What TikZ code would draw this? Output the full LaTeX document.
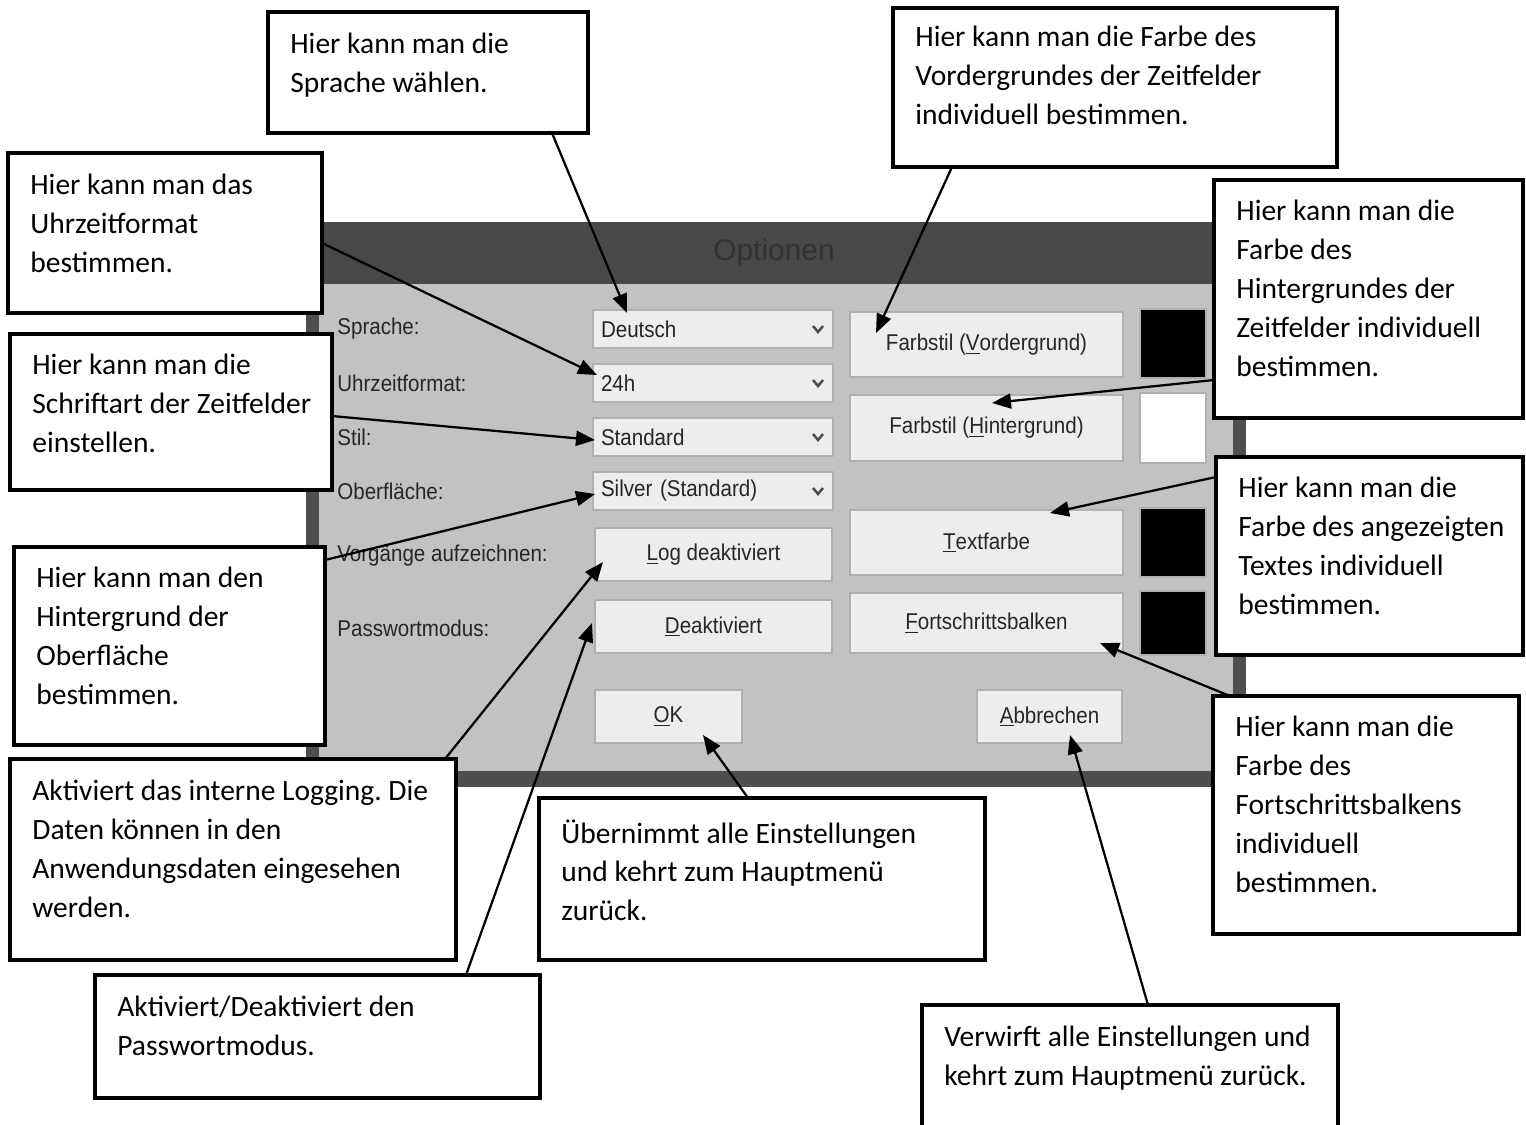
\documentclass[tikz,border=0pt]{standalone}
\usepackage{fontspec}
\usetikzlibrary{arrows.meta,positioning}
\newfontfamily\notefont{Carlito}
\newfontfamily\uifont[FakeStretch=0.9]{Liberation Sans}
\newfontfamily\titlefont{Liberation Sans}
\definecolor{winframe}{HTML}{4E4E4E}
\definecolor{wintitle}{HTML}{484848}
\definecolor{wintext}{HTML}{333333}
\definecolor{winbg}{HTML}{C2C2C2}
\definecolor{ctrlbg}{HTML}{EDEDED}
\definecolor{ctrlline}{HTML}{B0B0B0}
\definecolor{uitext}{HTML}{262626}
\frenchspacing
\tikzset{
    >={Triangle[length=3.8mm,width=3mm]},
    pxbox/.style 2 args={minimum width=#1*0.2mm,minimum height=#2*0.2mm},
    callout/.style={draw,line width=0.65mm,fill=white,inner sep=0pt,outer sep=0pt,anchor=north west},
    note/.style={font=\notefont\fontsize{16.8}{22.1}\selectfont,align=left,inner sep=0pt,anchor=north west,execute at begin node=\strut},
    pointer/.style={->,line width=0.45mm},
    ctrl/.style={draw=ctrlline,fill=ctrlbg,line width=0.3mm,inner sep=0pt,outer sep=0pt,font=\uifont\fontsize{13}{15}\selectfont,text=uitext},
    combo/.style={ctrl,anchor=west,minimum height=7.6mm,text width=44.8mm,inner xsep=1.6mm,align=left},
    button/.style={ctrl,anchor=north west},
    swatch/.style={draw=ctrlline,line width=0.3mm,inner sep=0pt,outer sep=0pt,anchor=north west},
    uilabel/.style={font=\uifont\fontsize{13}{15}\selectfont,text=uitext,anchor=west,inner sep=0pt},
    chev/.style={draw=gray!60!black,line width=0.5mm}
}

\begin{document}
\begin{tikzpicture}[x=0.2mm,y=-0.2mm]
        \clip (0,0) rectangle (1526,1124);

        % Dialog window
        \fill[winframe] (306,222) rectangle (1246,787);
        \fill[wintitle] (306,222) rectangle (1246,284);
        \fill[winbg] (319,284) rectangle (1233,771);
        \node[font=\titlefont\fontsize{17}{20}\selectfont,text=wintext] (title) at (774,253) {Optionen};

        % Labels
        \foreach \name/\y/\txt in {
            lblsprache/329/Sprache:, lbluhr/383/Uhrzeitformat:, lblstil/437/Stil:,
            lblflaeche/491/Oberfläche:, lbllog/556/Vorgänge aufzeichnen:, lblpw/628/Passwortmodus:
        } {
            \node[uilabel] (\name) at (337,\y) {\txt};
        }

        % Combo boxes
        \foreach \name/\y/\val in {
            deutsch/329/Deutsch, uhr/383/24h, stil/437/Standard, flaeche/491/Silver (Standard)
        } {
            \node[combo] (\name) at (593,\y) {\val};
            \draw[chev] ([shift={(-20,-3)}]\name.east) -- ++(5,6) -- ++(5,-6);
        }

        % Buttons
        \node[button,pxbox={237}{53}] (logbtn) at (595,528) {\underline{L}og deaktiviert};
        \node[button,pxbox={237}{53}] (pwbtn) at (595,600) {\underline{D}eaktiviert};
        \node[button,pxbox={147}{53}] (okbtn) at (595,690) {\underline{O}K};
        \node[button,pxbox={273}{65}] (vgbtn) at (850,312) {Farbstil (\underline{V}ordergrund)};
        \node[button,pxbox={273}{66}] (hgbtn) at (850,395) {Farbstil (\underline{H}intergrund)};
        \node[button,pxbox={273}{65}] (txtbtn) at (850,510) {\underline{T}extfarbe};
        \node[button,pxbox={273}{60}] (fsbtn) at (850,593) {\underline{F}ortschrittsbalken};
        \node[button,pxbox={145}{53}] (abbtn) at (977,690) {\underline{A}bbrechen};

        % Colour swatches
        \node[swatch,fill=black,pxbox={66}{69}] (vgcol) at (1140,309) {};
        \node[swatch,fill=white,pxbox={66}{70}] (hgcol) at (1140,393) {};
        \node[swatch,fill=black,pxbox={66}{69}] (txtcol) at (1140,508) {};
        \node[swatch,fill=black,pxbox={66}{64}] (fscol) at (1140,591) {};

        % Callouts
        \node[callout,pxbox={320}{121}] (langbox) at (268,12) {};
        \node[note] (langtxt) at ([shift={(22,21)}]langbox.north west) {Hier kann man die\\Sprache wählen.};
        \node[callout,pxbox={444}{159}] (vgbox) at (893,8) {};
        \node[note] (vgtxt) at ([shift={(22,18)}]vgbox.north west) {Hier kann man die Farbe des\\Vordergrundes der Zeitfelder\\individuell bestimmen.};
        \node[callout,pxbox={314}{160}] (uhrbox) at (8,153) {};
        \node[note] (uhrtxt) at ([shift={(22,21)}]uhrbox.north west) {Hier kann man das\\Uhrzeitformat\\bestimmen.};
        \node[callout,pxbox={309}{238}] (hgbox) at (1214,180) {};
        \node[note] (hgtxt) at ([shift={(22,20)}]hgbox.north west) {Hier kann man die\\Farbe des\\Hintergrundes der\\Zeitfelder individuell\\bestimmen.};
        \node[callout,pxbox={322}{156}] (stilbox) at (10,334) {};
        \node[note] (stiltxt) at ([shift={(22,20)}]stilbox.north west) {Hier kann man die\\Schriftart der Zeitfelder\\einstellen.};
        \node[callout,pxbox={307}{198}] (txtbox) at (1216,457) {};
        \node[note] (txttxt) at ([shift={(22,20)}]txtbox.north west) {Hier kann man die\\Farbe des angezeigten\\Textes individuell\\bestimmen.};
        \node[callout,pxbox={311}{198}] (flbox) at (14,547) {};
        \node[note] (fltxt) at ([shift={(22,20)}]flbox.north west) {Hier kann man den\\Hintergrund der\\Oberfläche\\bestimmen.};
        \node[callout,pxbox={306}{238}] (fsbox) at (1213,696) {};
        \node[note] (fstxt) at ([shift={(22,20)}]fsbox.north west) {Hier kann man die\\Farbe des\\Fortschrittsbalkens\\individuell\\bestimmen.};
        \node[callout,pxbox={446}{201}] (logbox) at (10,759) {};
        \node[note] (logtxt) at ([shift={(22,21)}]logbox.north west) {Aktiviert das interne Logging. Die\\Daten können in den\\Anwendungsdaten eingesehen\\werden.};
        \node[callout,pxbox={446}{162}] (okbox) at (539,798) {};
        \node[note] (oktxt) at ([shift={(22,21)}]okbox.north west) {Übernimmt alle Einstellungen\\und kehrt zum Hauptmenü\\zurück.};
        \node[callout,pxbox={445}{123}] (pwbox) at (95,975) {};
        \node[note] (pwtxt) at ([shift={(22,21)}]pwbox.north west) {Aktiviert/Deaktiviert den\\Passwortmodus.};
        \node[callout,pxbox={416}{140}] (abbox) at (922,1005) {};
        \node[note] (abtxt) at ([shift={(22,21)}]abbox.north west) {Verwirft alle Einstellungen und\\kehrt zum Hauptmenü zurück.};

        % Pointers
        \draw[pointer] ([shift={(284,0)}]langbox.south west) -- ([shift={(34,3)}]deutsch.north west);
        \draw[pointer] ([shift={(0,90)}]uhrbox.north east) -- ([shift={(4,11)}]uhr.north west);
        \draw[pointer] ([shift={(0,82)}]stilbox.north east) -- ([shift={(2,22)}]stil.north west);
        \draw[pointer] ([shift={(0,13)}]flbox.north east) -- ([shift={(2,22)}]flaeche.north west);
        \draw[pointer] ([shift={(59,0)}]vgbox.south west) -- ([shift={(26,21)}]vgbtn.north west);
        \draw[pointer] ([shift={(0,200)}]hgbox.north west) -- ([shift={(142,8)}]hgbtn.north west);
        \draw[pointer] ([shift={(0,20)}]txtbox.north west) -- ([shift={(200,3)}]txtbtn.north west);
        \draw[pointer] ([shift={(17,0)}]fsbox.north west) -- ([shift={(250,50)}]fsbtn.north west);
        \draw[pointer] ([shift={(435,0)}]logbox.north west) -- ([shift={(8,34)}]logbtn.north west);
        \draw[pointer] ([shift={(371,0)}]pwbox.north west) -- ([shift={(-3,23)}]pwbtn.north west);
        \draw[pointer] ([shift={(209,0)}]okbox.north west) -- ([shift={(108,45)}]okbtn.north west);
        \draw[pointer] ([shift={(226,0)}]abbox.north west) -- ([shift={(93,45)}]abbtn.north west);
\end{tikzpicture}
\end{document}
